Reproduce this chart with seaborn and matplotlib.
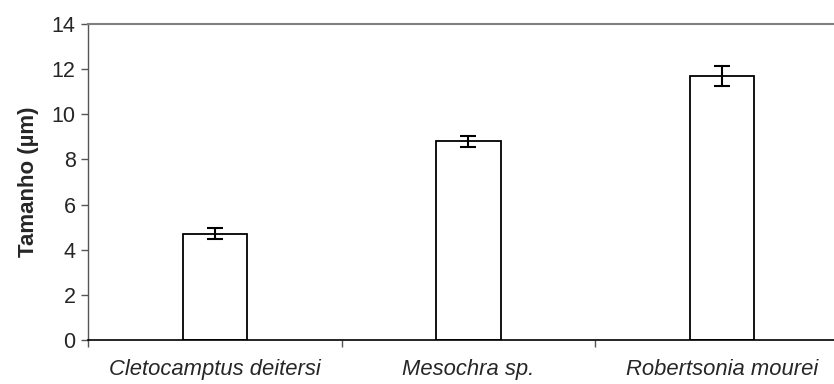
import matplotlib
matplotlib.use("Agg")
import matplotlib.pyplot as plt
import seaborn as sns
import pandas as pd

# values
species = ["Cletocamptus deitersi", "Mesochra sp.", "Robertsonia mourei"]
tamanho = [4.70, 8.80, 11.70]
erro = [0.24, 0.24, 0.44]

sns.set_style("white")
plt.rcParams['font.family'] = ['Liberation Sans', 'DejaVu Sans']

df = pd.DataFrame({"especie": species, "tamanho": tamanho})

fig = plt.figure(figsize=(8.34, 3.84), dpi=100)
ax = fig.add_axes([0.1058, 0.1146, 0.8942, 0.8229])

sns.barplot(data=df, x="especie", y="tamanho", ax=ax, color="white",
            edgecolor="black", linewidth=1.3, width=0.254, errorbar=None)
ax.errorbar(range(len(species)), tamanho, yerr=erro, fmt="none",
            ecolor="black", elinewidth=1.5, capsize=5.5, capthick=1.5)

ax.set_ylim(0, 14)
ax.set_yticks(range(0, 15, 2))
ax.set_xlim(-0.5, 2.442)

ax.set_xlabel("")
ax.set_ylabel("Tamanho (µm)", fontsize=16, fontweight="bold", labelpad=9)
ax.set_xticks(range(len(species)))
ax.set_xticklabels(species, fontsize=15.8, fontstyle="italic")
ax.set_xticks([-0.5, 0.5, 1.5], minor=True)
ax.tick_params(axis="x", which="major", length=0, pad=14)
ax.tick_params(axis="x", which="minor", length=5, width=1, color="#555555",
               direction="out", bottom=True)
ax.tick_params(axis="y", length=5, width=1, color="#555555", direction="out",
               labelsize=15.5, left=True, pad=4)

ax.spines["right"].set_visible(False)
ax.spines["top"].set_color("#808080")
ax.spines["top"].set_linewidth(1.5)
ax.spines["left"].set_color("#555555")
ax.spines["left"].set_linewidth(1.0)
ax.spines["bottom"].set_color("black")
ax.spines["bottom"].set_linewidth(1.2)

fig.savefig("out.png", dpi=100)
